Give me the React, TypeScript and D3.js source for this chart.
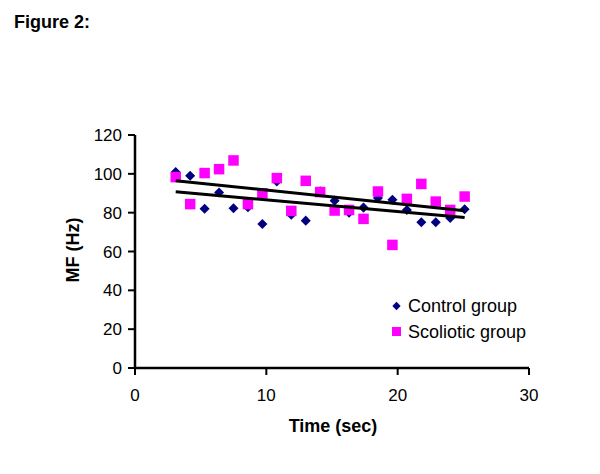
import React from "react";
import * as d3 from "d3";

const times = [3.1, 4.2, 5.3, 6.4, 7.5, 8.6, 9.7, 10.8, 11.9, 13.0, 14.1, 15.2, 16.3, 17.4, 18.5, 19.6, 20.7, 21.8, 22.9, 24.0, 25.1];
const controlValues = [101, 99, 82, 90.4, 82.3, 82.8, 74.2, 96, 78.9, 75.9, 91, 86.2, 80, 82.6, 87.5, 86.6, 81.4, 75.1, 75.1, 77.2, 81.8];
const scolioticValues = [98.3, 84.4, 100.4, 102.4, 106.9, 84.4, 90, 97.8, 80.9, 96.4, 90.6, 81.1, 81.4, 76.8, 90.9, 63.4, 87.1, 94.8, 85.7, 81.4, 88.3];
const xTicks = [0, 10, 20, 30];
const yTicks = [0, 20, 40, 60, 80, 100, 120];
const seriesNames = ["Control group", "Scoliotic group"];

const FONT = "'Liberation Sans', Arial, sans-serif";

function regression(xs: number[], ys: number[]) {
  const mx = d3.mean(xs) as number;
  const my = d3.mean(ys) as number;
  let num = 0, den = 0;
  xs.forEach((x, i) => { num += (x - mx) * (ys[i] - my); den += (x - mx) * (x - mx); });
  const b = num / den;
  const a = my - b * mx;
  return (x: number) => a + b * x;
}

export default function App() {
  const x = d3.scaleLinear().domain([0, 30]).range([135, 529]);
  const y = d3.scaleLinear().domain([0, 120]).range([368, 135]);
  const diamond = d3.symbol().type(d3.symbolDiamond2).size(64)();
  const diamondSmall = d3.symbol().type(d3.symbolDiamond2).size(44)();
  const sq = 10.5;
  const xMin = d3.min(times) as number;
  const xMax = d3.max(times) as number;
  const fits = [regression(times, controlValues), regression(times, scolioticValues)];
  const line = d3.line<[number, number]>().x(d => x(d[0])).y(d => y(d[1]));

  return (
    <svg width={600} height={474} style={{ position: "absolute", left: 0, top: 0, background: "#fff" }} fontFamily={FONT}>
      <rect width={600} height={474} fill="#fff" />
      <text x={14} y={28} fontSize={18} fontWeight="bold">Figure 2:</text>

      {/* axes */}
      <line x1={x(0)} x2={x(30)} y1={y(0)} y2={y(0)} stroke="#000" strokeWidth={2.5} />
      <line x1={x(0)} x2={x(0)} y1={y(0)} y2={y(120)} stroke="#000" strokeWidth={2.5} />
      {yTicks.map(t => (
        <g key={"y" + t}>
          <line x1={x(0) - 7} x2={x(0)} y1={y(t)} y2={y(t)} stroke="#000" strokeWidth={2} />
          <text x={x(0) - 13} y={y(t)} dy="0.36em" textAnchor="end" fontSize={17}>{t}</text>
        </g>
      ))}
      {xTicks.map(t => (
        <g key={"x" + t}>
          <line x1={x(t)} x2={x(t)} y1={y(0)} y2={y(0) + 7} stroke="#000" strokeWidth={2} />
          <text x={x(t)} y={y(0) + 33} textAnchor="middle" fontSize={17}>{t}</text>
        </g>
      ))}
      <text x={333} y={432} textAnchor="middle" fontSize={18} fontWeight="bold">Time (sec)</text>
      <text transform={`translate(79,250) rotate(-90)`} textAnchor="middle" fontSize={18} fontWeight="bold">MF (Hz)</text>

      {/* markers */}
      {times.map((t, i) => (
        <path key={"c" + i} d={diamond as string} transform={`translate(${x(t)},${y(controlValues[i])})`} fill="#000080" />
      ))}
      {times.map((t, i) => (
        <rect key={"s" + i} x={x(t) - sq / 2} y={y(scolioticValues[i]) - sq / 2} width={sq} height={sq} fill="#FF00FF" />
      ))}

      {/* trend lines */}
      {fits.map((f, i) => (
        <path key={"f" + i} d={line([[xMin, f(xMin)], [xMax, f(xMax)]]) as string} stroke="#000" strokeWidth={3} fill="none" />
      ))}

      {/* legend */}
      <path d={diamondSmall as string} transform="translate(396.5,306)" fill="#000080" />
      <text x={408} y={312} fontSize={18}>{seriesNames[0]}</text>
      <rect x={392} y={327} width={9} height={9} fill="#FF00FF" />
      <text x={408} y={338} fontSize={18}>{seriesNames[1]}</text>
    </svg>
  );
}
